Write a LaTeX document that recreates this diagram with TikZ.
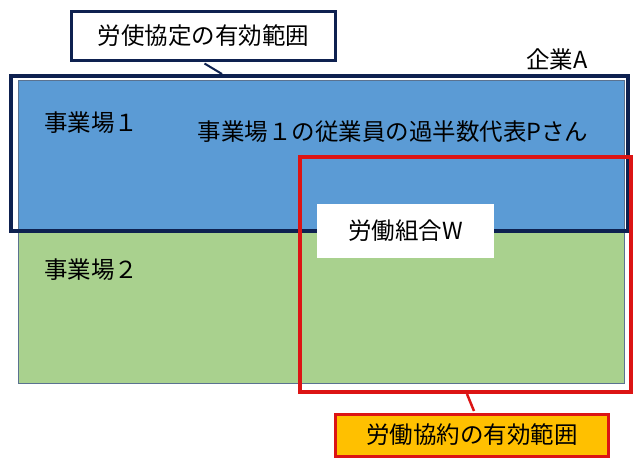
\documentclass[tikz,border=0pt]{standalone}
\usepackage{fontspec}
\setmainfont{Noto Sans CJK JP}
\usepackage{xcolor}
\usepackage{tikz}
\usetikzlibrary{positioning, calc}
\definecolor{siteBlue}{HTML}{5B9BD5}
\definecolor{siteGreen}{HTML}{A9D18E}
\definecolor{siteEdge}{HTML}{5A7290}
\definecolor{kyoteiNavy}{HTML}{0E2150}
\definecolor{kyoyakuRed}{HTML}{DC1414}
\definecolor{kyoyakuOrange}{HTML}{FFC000}

\begin{document}
\begin{tikzpicture}[x=1pt,y=-1pt,
 zone/.style={rectangle,draw=siteEdge,line width=0.8pt,inner sep=0pt},
 frame/.style={rectangle,inner sep=0pt,fill=none},
 callout/.style={rectangle,line width=3pt,inner sep=0pt,font=\fontsize{23.5}{28}\selectfont},
 label/.style={font=\fontsize{23.5}{28}\selectfont,inner sep=0pt}]
\useasboundingbox (0,0) rectangle (641,464);
% sites
\node[zone,fill=siteBlue,minimum width=606,minimum height=152] (site1) at (321,156) {};
\node[zone,fill=siteGreen,minimum width=606,minimum height=151] (site2) at (321,307.5) {};
% ranges
\node[frame,draw=kyoteiNavy,line width=4pt,minimum width=617,minimum height=155] (kyotei) at (319.5,153.5) {};
\node[frame,draw=kyoyakuRed,line width=3.5pt,minimum width=331,minimum height=235] (kyoyaku) at (465.5,274.5) {};
\node[rectangle,fill=white,minimum width=177,minimum height=54,label] (union) at (405.5,231) {労働組合W};
% texts
\node[label,anchor=west] (name1) at (44,123) {事業場１};
\node[label,anchor=west] (name2) at (44,270) {事業場２};
\node[label] (rep) at (393,132) {事業場１の従業員の過半数代表Pさん};
\node[label] (company) at (557,60) {企業A};
% callouts
\node[callout,draw=kyoteiNavy,fill=white,minimum width=264,minimum height=49] (kyoteiNote) at (203.5,36) {労使協定の有効範囲};
\node[callout,draw=kyoyakuRed,fill=kyoyakuOrange,minimum width=273,minimum height=42] (kyoyakuNote) at (472,435) {労働協約の有効範囲};
\coordinate (kyoteiTip) at (222,74);
\coordinate (kyoyakuTip) at (467,394);
\draw[kyoteiNavy,line width=2pt] ($(kyoteiNote.south)+(1,1.5)$) -- (kyoteiTip);
\draw[kyoyakuRed,line width=2.5pt] (kyoyakuTip) -- ($(kyoyakuNote.north)+(2,-1.5)$);
\end{tikzpicture}
\end{document}
